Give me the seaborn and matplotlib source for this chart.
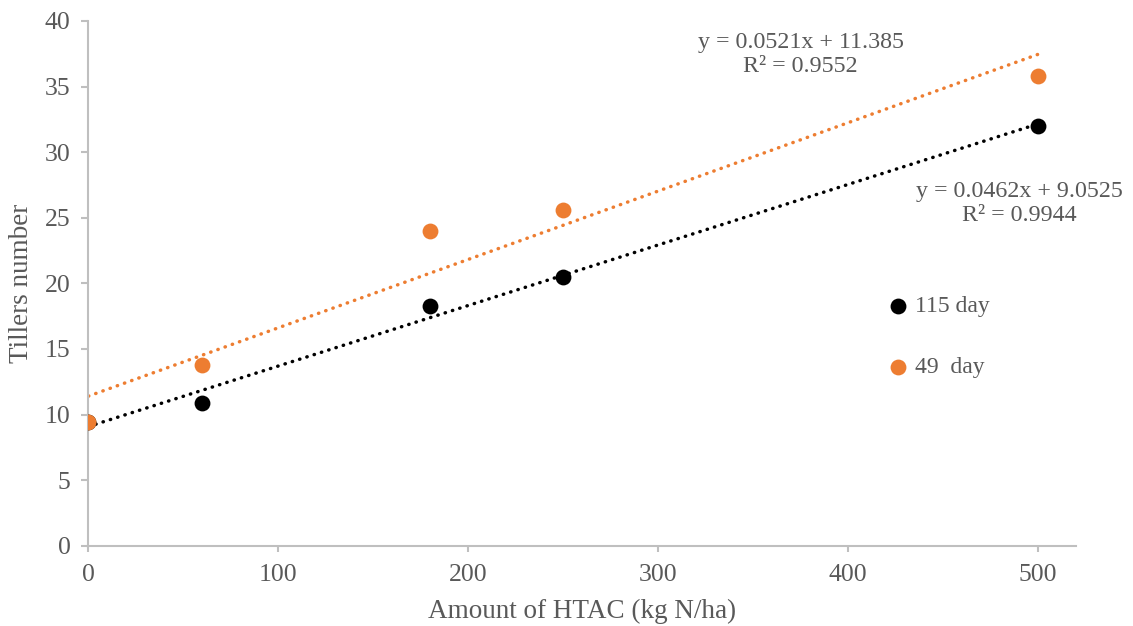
import pandas as pd
import matplotlib.pyplot as plt
import seaborn as sns

# data
htac = [0, 60, 180, 250, 500]
tillers_115 = [9.4, 10.9, 18.3, 20.5, 32.0]
tillers_49 = [9.4, 13.8, 24.0, 25.6, 35.8]
series_labels = ['115 day', '49  day']
eq_115 = 'y = 0.0462x + 9.0525\nR² = 0.9944'
eq_49 = 'y = 0.0521x + 11.385\nR² = 0.9552'

colors = ['#000000', '#ED7D31']
grey = '#BFBFBF'
text_col = '#595959'

sns.set_style('ticks')
plt.rcParams['font.family'] = ['Liberation Serif', 'DejaVu Serif']

df = pd.DataFrame({'htac': htac, '115': tillers_115, '49': tillers_49})

fig = plt.figure(figsize=(11.33, 6.26), dpi=100)
ax = fig.add_axes([0.0781, 0.1283, 0.8716, 0.8382])

for col, c, lab in zip(['115', '49'], colors, series_labels):
    sns.regplot(data=df, x='htac', y=col, ax=ax, ci=None, truncate=True,
                color=c, label=lab,
                scatter_kws=dict(s=130, alpha=1, linewidths=0, zorder=3),
                line_kws=dict(lw=2.5, linestyle=(0, (0.1, 2.1)),
                              dash_capstyle='round', zorder=2))

ax.set_xlim(0, 520)
ax.set_ylim(0, 40)
ax.set_xticks(range(0, 501, 100))
ax.set_yticks(range(0, 41, 5))

for s in ['top', 'right']:
    ax.spines[s].set_visible(False)
for s in ['left', 'bottom']:
    ax.spines[s].set_color(grey)
    ax.spines[s].set_linewidth(1.5)
ax.tick_params(axis='y', length=5, width=1.5, color=grey, labelcolor=text_col,
               labelsize=18.5, pad=8)
ax.tick_params(axis='x', length=4.5, width=1.5, color=grey, labelcolor=text_col,
               labelsize=18.5, pad=9)

ax.set_xlabel('Amount of HTAC (kg N/ha)', fontsize=19.5, color=text_col, labelpad=9)
ax.set_ylabel('Tillers number', fontsize=19.5, color=text_col, labelpad=8)

ax.text(375, 37.45, eq_49, ha='center', va='center', fontsize=17.3,
        color=text_col, linespacing=1.2, clip_on=False)
ax.text(490, 26.1, eq_115, ha='center', va='center', fontsize=17.3,
        color=text_col, linespacing=1.2, clip_on=False)

handles, labels = ax.get_legend_handles_labels()
pts = [h for h in handles if hasattr(h, 'get_offsets')]
leg = fig.legend(pts, series_labels, loc='center left',
                 bbox_to_anchor=(0.753, 0.462), frameon=False, fontsize=17,
                 labelspacing=1.65, handletextpad=-0.3, markerscale=1.0,
                 labelcolor=text_col)

fig.savefig('out.png', dpi=100)
